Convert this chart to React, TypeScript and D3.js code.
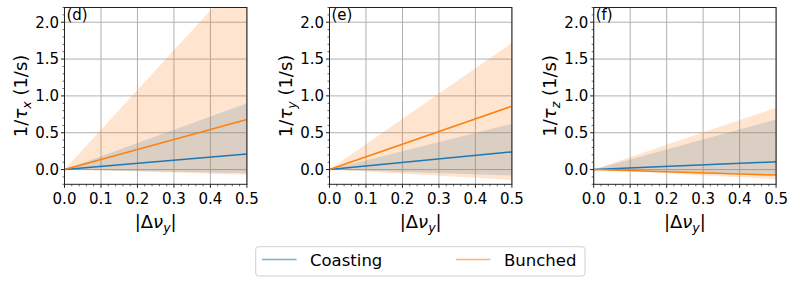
import * as React from 'react';
import * as d3 from 'd3';

// sampled points along |Δν_y|
const detuning = [0, 0.5];

// panel (d): 1/τ_x
const coastX = [0, 0.21];
const coastXLow = [0, -0.05];
const coastXHigh = [0, 0.9];
const bunchX = [0, 0.68];
const bunchXLow = [0, -0.07];
const bunchXHigh = [0, 2.7];

// panel (e): 1/τ_y
const coastY = [0, 0.24];
const coastYLow = [0, -0.08];
const coastYHigh = [0, 0.62];
const bunchY = [0, 0.86];
const bunchYLow = [0, -0.14];
const bunchYHigh = [0, 1.72];

// panel (f): 1/τ_z
const coastZ = [0, 0.105];
const coastZLow = [0, -0.07];
const coastZHigh = [0, 0.68];
const bunchZ = [0, -0.075];
const bunchZLow = [0, -0.13];
const bunchZHigh = [0, 0.84];

const xTicks = [0, 0.1, 0.2, 0.3, 0.4, 0.5];
const yTicks = [0, 0.5, 1.0, 1.5, 2.0];
const seriesNames = ['Coasting', 'Bunched'];

const BLUE = '#1f77b4';
const ORANGE = '#ff7f0e';
const FONT = '"DejaVu Sans", sans-serif';

const panels = [
  { tag: '(d)', sub: 'x', coast: coastX, coastLow: coastXLow, coastHigh: coastXHigh, bunch: bunchX, bunchLow: bunchXLow, bunchHigh: bunchXHigh },
  { tag: '(e)', sub: 'y', coast: coastY, coastLow: coastYLow, coastHigh: coastYHigh, bunch: bunchY, bunchLow: bunchYLow, bunchHigh: bunchYHigh },
  { tag: '(f)', sub: 'z', coast: coastZ, coastLow: coastZLow, coastHigh: coastZHigh, bunch: bunchZ, bunchLow: bunchZLow, bunchHigh: bunchZHigh },
];

const W = 797;
const H = 284;
const panelLeft = [64.5, 329.5, 593.7];
const panelW = 182.4;
const top = 7.5;
const bottom = 184.3;

const Panel: React.FC<{ p: typeof panels[number]; left: number; idx: number }> = ({ p, left, idx }) => {
  const x = d3.scaleLinear().domain([0, 0.5]).range([0, panelW]);
  const y = d3.scaleLinear().domain([-0.2, 2.2]).range([bottom - top, 0]);
  const h = bottom - top;

  const band = (lo: number[], hi: number[]) =>
    d3.area<number>()
      .x((_, i) => x(detuning[i]))
      .y0((_, i) => y(lo[i]))
      .y1((_, i) => y(hi[i]))(detuning) || '';
  const line = (v: number[]) =>
    d3.line<number>()
      .x((_, i) => x(detuning[i]))
      .y((_, i) => y(v[i]))(detuning) || '';

  const xMinor = d3.range(0, 0.5001, 0.02).filter(v => !xTicks.some(t => Math.abs(t - v) < 1e-6));
  const yMinor = d3.range(-0.2, 2.2001, 0.1).filter(v => !yTicks.some(t => Math.abs(t - v) < 1e-6));
  const clipId = `clip-${idx}`;

  return (
    <g transform={`translate(${left},${top})`}>
      <defs>
        <clipPath id={clipId}>
          <rect x={0} y={0} width={panelW} height={h} />
        </clipPath>
      </defs>
      {xTicks.map(t => (
        <line key={`gx${t}`} x1={x(t)} x2={x(t)} y1={0} y2={h} stroke="#b0b0b0" strokeWidth={1} />
      ))}
      {yTicks.map(t => (
        <line key={`gy${t}`} x1={0} x2={panelW} y1={y(t)} y2={y(t)} stroke="#b0b0b0" strokeWidth={1} />
      ))}
      <g clipPath={`url(#${clipId})`}>
        <path d={band(p.coastLow, p.coastHigh)} fill={BLUE} fillOpacity={0.2} />
        <path d={band(p.bunchLow, p.bunchHigh)} fill={ORANGE} fillOpacity={0.2} />
        <path d={line(p.coast)} fill="none" stroke={BLUE} strokeWidth={1.5} />
        <path d={line(p.bunch)} fill="none" stroke={ORANGE} strokeWidth={1.5} />
      </g>
      <rect x={0} y={0} width={panelW} height={h} fill="none" stroke="#222" strokeWidth={1} />
      {xTicks.map(t => (
        <g key={`xt${t}`}>
          <line x1={x(t)} x2={x(t)} y1={h} y2={h + 3.5} stroke="#222" />
          <text x={x(t)} y={204.3 - top} textAnchor="middle" fontSize={15} fontFamily={FONT}>{t.toFixed(1)}</text>
        </g>
      ))}
      {xMinor.map(t => (
        <line key={`xm${t}`} x1={x(t)} x2={x(t)} y1={h} y2={h + 2} stroke="#222" strokeWidth={0.7} />
      ))}
      {yTicks.map(t => (
        <g key={`yt${t}`}>
          <line x1={-3.5} x2={0} y1={y(t)} y2={y(t)} stroke="#222" />
          <text x={-5.5} y={y(t)} dy="0.36em" textAnchor="end" fontSize={15} fontFamily={FONT}>{t.toFixed(1)}</text>
        </g>
      ))}
      {yMinor.map(t => (
        <line key={`ym${t.toFixed(2)}`} x1={-2} x2={0} y1={y(t)} y2={y(t)} stroke="#222" strokeWidth={0.7} />
      ))}
      <text x={2} y={19.5 - top} fontSize={15} fontFamily={FONT}>{p.tag}</text>
      <text x={panelW / 2} y={228 - top} textAnchor="middle" fontSize={18} fontFamily={FONT}>
        |Δ<tspan fontStyle="italic">ν</tspan>
        <tspan fontStyle="italic" fontSize={12.6} dy={4}>y</tspan>
        <tspan dy={-4}>|</tspan>
      </text>
      <text
        transform={`translate(-37.5,${h / 2}) rotate(-90)`}
        textAnchor="middle"
        fontSize={18}
        fontFamily={FONT}
      >
        1/<tspan fontStyle="italic">τ</tspan>
        <tspan fontStyle="italic" fontSize={12.6} dy={4}>{p.sub}</tspan>
        <tspan dy={-4}> (1/s)</tspan>
      </text>
    </g>
  );
};

const App: React.FC = () => {
  const legendColors = [BLUE, ORANGE];
  const legendX = [262, 456];
  return (
    <svg width={W} height={H} style={{ position: 'absolute', left: 0, top: 0, background: '#fff' }}>
      {panels.map((p, i) => (
        <Panel key={p.tag} p={p} left={panelLeft[i]} idx={i} />
      ))}
      <rect x={255.7} y={246.7} width={329.3} height={29.3} rx={3} fill="#fff" stroke="#d0d0d0" strokeWidth={1} />
      {seriesNames.map((name, i) => (
        <g key={name}>
          <line x1={legendX[i]} x2={legendX[i] + 34.5} y1={259.5} y2={259.5} stroke={legendColors[i]} strokeOpacity={0.6} strokeWidth={1.5} />
          <text x={legendX[i] + 48} y={265.7} fontSize={16.5} fontFamily={FONT}>{name}</text>
        </g>
      ))}
    </svg>
  );
};

export default App;
